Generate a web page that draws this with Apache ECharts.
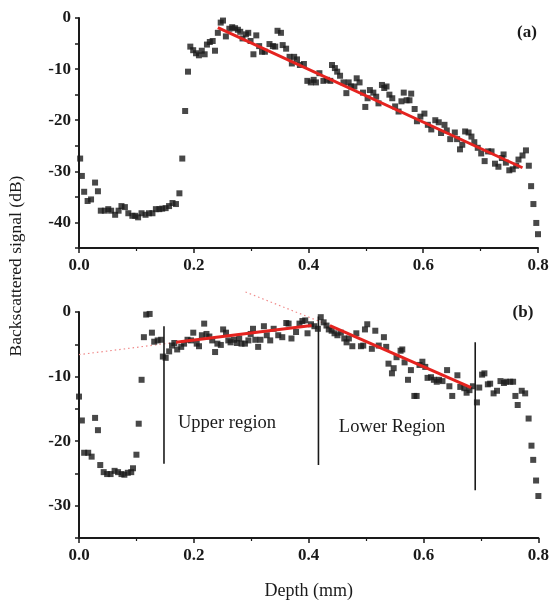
<!DOCTYPE html>
<html>
<head>
<meta charset="utf-8">
<script src="https://cdn.jsdelivr.net/npm/echarts@6/dist/echarts.min.js"></script>
<style>html,body{margin:0;padding:0;background:#fff;}#c{width:552px;height:601px;}</style>
</head>
<body>
<div id="c"></div>
<script>
// ---- Panel (a) data ----
var depthA = [0.002,0.005,0.009,0.015,0.021,0.028,0.033,0.038,0.045,0.051,0.056,0.063,0.069,0.074,0.080,0.086,0.093,0.098,0.103,0.109,0.116,0.122,0.128,0.134,0.140,0.145,0.151,0.157,0.163,0.169,0.175,0.180,0.185,0.190,0.194,0.199,0.204,0.209,0.214,0.219,0.223,0.228,0.233,0.237,0.242,0.247,0.251,0.256,0.262,0.267,0.272,0.277,0.281,0.285,0.291,0.295,0.299,0.304,0.309,0.314,0.319,0.324,0.332,0.338,0.342,0.346,0.352,0.355,0.361,0.367,0.371,0.375,0.380,0.385,0.392,0.398,0.404,0.409,0.413,0.419,0.426,0.432,0.438,0.441,0.446,0.450,0.455,0.461,0.466,0.470,0.474,0.480,0.484,0.489,0.495,0.499,0.503,0.507,0.513,0.518,0.522,0.528,0.532,0.536,0.541,0.546,0.551,0.557,0.562,0.566,0.571,0.576,0.579,0.585,0.589,0.595,0.602,0.608,0.614,0.621,0.627,0.631,0.637,0.641,0.647,0.655,0.659,0.664,0.668,0.673,0.679,0.684,0.689,0.695,0.701,0.707,0.713,0.719,0.725,0.731,0.737,0.740,0.744,0.750,0.756,0.762,0.766,0.773,0.779,0.784,0.788,0.792,0.797,0.800];
var signalA = [-27.5,-30.9,-34.0,-35.8,-35.5,-32.2,-33.9,-37.7,-37.7,-37.4,-37.7,-38.5,-37.7,-36.8,-37.0,-38.2,-38.7,-38.7,-39.0,-38.2,-38.5,-38.2,-38.2,-37.4,-37.4,-37.3,-37.2,-36.8,-36.2,-36.4,-34.3,-27.5,-18.2,-10.5,-5.6,-6.3,-6.9,-7.3,-6.4,-7.1,-5.2,-4.7,-4.5,-6.4,-2.9,-0.9,-0.5,-3.6,-2.1,-1.8,-2.0,-2.3,-2.7,-4.0,-3.2,-2.9,-4.5,-7.1,-3.4,-5.5,-6.6,-6.6,-5.1,-5.5,-5.6,-2.5,-2.9,-5.3,-6.0,-7.6,-8.9,-7.6,-8.1,-9.2,-9.0,-12.3,-12.6,-12.1,-12.6,-10.8,-12.3,-12.1,-12.3,-9.2,-9.8,-10.5,-11.3,-12.6,-14.7,-12.6,-13.4,-13.4,-11.8,-12.6,-14.6,-17.4,-15.7,-14.1,-14.6,-15.4,-16.7,-13.1,-13.7,-13.4,-15.0,-15.7,-17.3,-18.3,-16.3,-14.6,-16.1,-16.1,-14.8,-17.8,-20.2,-19.3,-18.7,-20.9,-21.8,-20.0,-20.4,-22.5,-20.9,-22.0,-23.7,-22.4,-23.7,-25.7,-24.8,-22.2,-22.4,-23.2,-24.3,-25.4,-26.5,-28.0,-26.1,-26.1,-28.5,-29.1,-27.4,-26.7,-28.3,-29.8,-29.6,-28.9,-27.7,-26.9,-25.9,-28.9,-32.9,-36.4,-40.1,-42.3];
var fitA = [[0.242,-1.9],[0.773,-29.3]];

// ---- Panel (b) data ----
var depthB = [0.000,0.005,0.009,0.016,0.022,0.028,0.033,0.037,0.043,0.049,0.055,0.062,0.068,0.074,0.079,0.085,0.091,0.094,0.100,0.104,0.109,0.113,0.117,0.123,0.127,0.131,0.137,0.143,0.146,0.151,0.157,0.162,0.166,0.171,0.178,0.183,0.189,0.195,0.199,0.205,0.209,0.214,0.218,0.222,0.227,0.232,0.237,0.241,0.247,0.251,0.256,0.260,0.264,0.270,0.275,0.279,0.283,0.289,0.295,0.299,0.303,0.307,0.312,0.316,0.322,0.327,0.333,0.339,0.347,0.354,0.361,0.365,0.370,0.378,0.384,0.389,0.394,0.398,0.404,0.410,0.416,0.421,0.426,0.431,0.435,0.440,0.445,0.450,0.456,0.462,0.466,0.470,0.476,0.483,0.491,0.495,0.498,0.502,0.510,0.516,0.522,0.531,0.535,0.539,0.545,0.548,0.553,0.560,0.563,0.567,0.573,0.578,0.584,0.588,0.593,0.598,0.603,0.607,0.613,0.618,0.623,0.627,0.633,0.641,0.645,0.650,0.659,0.664,0.671,0.675,0.680,0.686,0.693,0.697,0.702,0.706,0.712,0.716,0.722,0.728,0.734,0.740,0.744,0.751,0.756,0.760,0.764,0.771,0.777,0.783,0.788,0.791,0.796,0.800];
var signalB = [-13.1,-16.8,-21.8,-21.8,-22.4,-16.4,-18.3,-23.7,-24.8,-25.1,-25.1,-24.6,-24.8,-25.1,-25.2,-24.9,-24.8,-24.2,-22.1,-17.3,-10.5,-3.9,-0.4,-0.3,-3.2,-4.6,-4.4,-4.3,-6.9,-7.1,-6.1,-5.2,-4.8,-5.8,-5.4,-4.9,-4.3,-4.4,-3.2,-4.9,-5.3,-3.6,-1.8,-3.4,-3.8,-4.4,-6.2,-4.9,-5.1,-2.7,-3.2,-4.4,-4.7,-4.3,-4.8,-4.1,-4.9,-4.9,-4.4,-3.4,-2.6,-4.3,-5.4,-4.3,-2.2,-3.6,-4.4,-2.6,-3.6,-3.9,-1.7,-1.8,-4.1,-3.1,-1.8,-1.4,-1.3,-3.3,-1.9,-2.2,-2.6,-0.8,-1.6,-2.1,-2.7,-2.9,-3.3,-3.6,-3.2,-4.1,-4.7,-4.1,-5.3,-3.3,-5.3,-5.2,-2.7,-1.9,-5.7,-2.9,-5.2,-3.9,-5.4,-8.0,-9.5,-8.7,-7.0,-6.0,-5.8,-7.8,-10.5,-9.0,-13.0,-13.0,-8.2,-7.7,-8.5,-10.2,-10.1,-10.5,-10.8,-10.5,-10.7,-9.0,-11.5,-13.0,-9.8,-11.6,-11.8,-12.5,-12.1,-11.5,-14.0,-11.7,-9.7,-9.5,-11.2,-11.1,-12.6,-12.2,-10.7,-11.0,-10.8,-10.8,-10.8,-13.0,-14.4,-12.2,-12.6,-16.5,-20.7,-22.9,-26.1,-28.5];
var fitUpperB = [[0.169,-4.7],[0.405,-2.1]];
var fitLowerB = [[0.437,-2.1],[0.683,-11.7]];
var extUpperB = [[0.0,-6.6],[0.169,-4.7]];
var extLowerB = [[0.29,3.1],[0.437,-2.1]];
var markerDepthsB = [0.148,0.417,0.690];
var markerTopB = [-2.2,-0.7,-4.7];
var markerBottomB = [-23.5,-23.7,-27.6];
var xTicks = [0,0.2,0.4,0.6,0.8];

function zip(xs, ys){ return xs.map(function(x,i){ return [x, ys[i]]; }); }

var FONT = 'Liberation Serif';
var INK = '#1a1a1a';
var RED = '#e5231f';

function xAxisCfg(gi, withName){
  var o = {
    gridIndex: gi, type:'value', min:0, max:0.8, interval:0.2,
    axisLine:{show:true, onZero:false, lineStyle:{color:INK, width:2}},
    axisTick:{show:true, inside:false, length:5, lineStyle:{color:INK, width:1.5}},
    minorTick:{show:true, splitNumber:2, length:3, lineStyle:{color:INK, width:1.2}},
    splitLine:{show:false},
    axisLabel:{fontFamily:FONT, fontWeight:'bold', fontSize:17, color:INK, margin:9,
      formatter:function(v){ return xTicks.indexOf(Math.round(v*10)/10) >= 0 ? v.toFixed(1) : ''; }}
  };
  if (withName){
    o.name = 'Depth (mm)'; o.nameLocation = 'middle'; o.nameGap = 44;
    o.nameTextStyle = {fontFamily:FONT, fontSize:18, color:INK};
  }
  return o;
}
function yAxisCfg(gi, mn){
  return {
    gridIndex: gi, type:'value', min:mn, max:0, interval:5,
    axisLine:{show:true, onZero:false, lineStyle:{color:INK, width:2}},
    axisTick:{show:true, inside:false, length:4, lineStyle:{color:INK, width:1.5}},
    splitLine:{show:false},
    axisLabel:{fontFamily:FONT, fontWeight:'bold', fontSize:17, color:INK, margin:8,
      formatter:function(v){ return (Math.round(v) % 10 === 0) ? String(Math.round(v)) : ''; }}
  };
}

var vertSeries = markerDepthsB.map(function(d,i){
  return {type:'line', xAxisIndex:1, yAxisIndex:1, data:[[d, markerTopB[i]],[d, markerBottomB[i]]],
    showSymbol:false, symbol:'none', lineStyle:{color:INK, width:1.6}, z:3, silent:true};
});

var chart = echarts.init(document.getElementById('c'), null, {renderer:'canvas'});
chart.setOption({
  animation:false,
  backgroundColor:'#fff',
  grid:[
    {left:79, top:18, width:459, height:230},
    {left:79, top:312, width:463, height:231}
  ],
  xAxis:[xAxisCfg(0,false), xAxisCfg(1,true)],
  yAxis:[yAxisCfg(0,-45), yAxisCfg(1,-35)],
  series:[
    {type:'scatter', xAxisIndex:0, yAxisIndex:0, data:zip(depthA, signalA), symbol:'rect', symbolSize:6, itemStyle:{color:INK}, z:2},
    {type:'line', xAxisIndex:0, yAxisIndex:0, data:fitA, showSymbol:false, symbol:'none', lineStyle:{color:RED, width:3}, z:4},
    {type:'scatter', xAxisIndex:1, yAxisIndex:1, data:zip(depthB, signalB), symbol:'rect', symbolSize:6, itemStyle:{color:INK}, z:2},
    {type:'line', xAxisIndex:1, yAxisIndex:1, data:fitUpperB, showSymbol:false, symbol:'none', lineStyle:{color:RED, width:3}, z:4},
    {type:'line', xAxisIndex:1, yAxisIndex:1, data:fitLowerB, showSymbol:false, symbol:'none', lineStyle:{color:RED, width:3}, z:4},
    {type:'line', xAxisIndex:1, yAxisIndex:1, data:extUpperB, showSymbol:false, symbol:'none', clip:false, lineStyle:{color:'#f08a8a', width:1.2, type:[1.5,3]}, z:1},
    {type:'line', xAxisIndex:1, yAxisIndex:1, data:extLowerB, showSymbol:false, symbol:'none', clip:false, lineStyle:{color:'#f08a8a', width:1.2, type:[1.5,3]}, z:1}
  ].concat(vertSeries),
  graphic:[
    {type:'text', x:527, y:33, style:{text:'(a)', font:'bold 17px "Liberation Serif"', fill:INK, align:'center', verticalAlign:'middle'}},
    {type:'text', x:523, y:313, style:{text:'(b)', font:'bold 17px "Liberation Serif"', fill:INK, align:'center', verticalAlign:'middle'}},
    {type:'text', x:227, y:423, style:{text:'Upper region', font:'18.5px "Liberation Serif"', fill:INK, align:'center', verticalAlign:'middle'}},
    {type:'text', x:392, y:427, style:{text:'Lower Region', font:'18.5px "Liberation Serif"', fill:INK, align:'center', verticalAlign:'middle'}},
    {type:'text', x:16, y:266, rotation:Math.PI/2, style:{text:'Backscattered signal (dB)', font:'17.5px "Liberation Serif"', fill:INK, align:'center', verticalAlign:'middle'}}
  ]
});
</script>
</body>
</html>
